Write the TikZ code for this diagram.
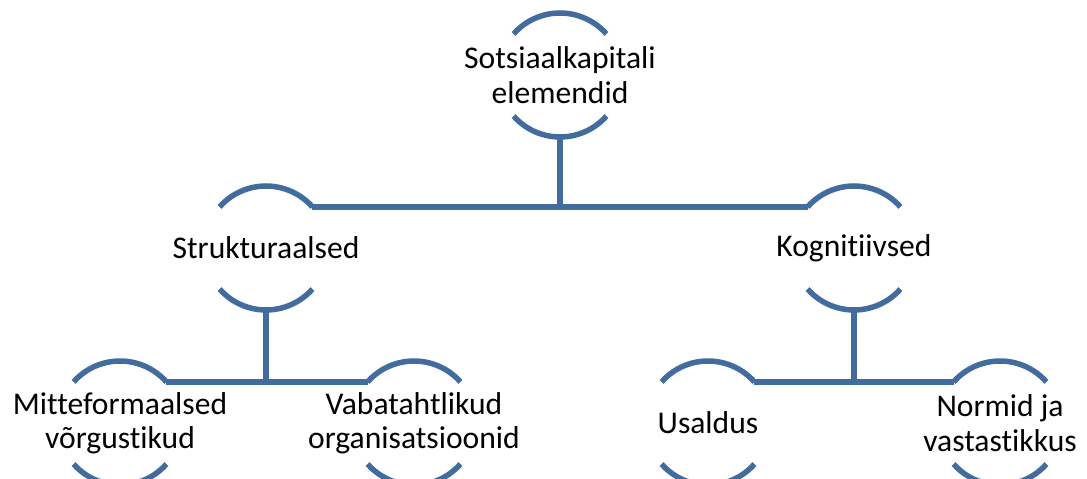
\documentclass[tikz,border=0pt]{standalone}
\usepackage{fontspec}
\setmainfont{Carlito}[Ligatures=NoCommon]
\usetikzlibrary{calc}
\definecolor{arcblue}{RGB}{66,107,158}
\tikzset{
  elem/.style={inner sep=0pt, outer sep=0pt, align=center,
    font=\fontsize{31.6}{34.5}\selectfont, text=black},
  link/.style={draw=arcblue, line width=5.5pt},
}
\newcommand{\elemarcs}[1]{%
  \coordinate (#1-tr) at ($(#1.center)+(41.5:62)$);
  \coordinate (#1-tl) at ($(#1.center)+(138.5:62)$);
  \coordinate (#1-br) at ($(#1.center)+(318.5:62)$);
  \coordinate (#1-b) at ($(#1.center)+(0,-62)$);
  \draw[link] (#1-tr) arc[start angle=41.5, end angle=138.5, radius=62pt];
  \draw[link] (#1-br) arc[start angle=318.5, end angle=221.5, radius=62pt];
}
\begin{document}
\begin{tikzpicture}[x=1pt,y=1pt]
\useasboundingbox (0,0) rectangle (1087,479);
\node[elem] (top) at (560,404) {Sotsiaalkapitali\\elemendid};
\node[elem] (s) at (266,231) {Strukturaalsed};
\node[elem] (k) at (854,231) {Kognitiivsed};
\node[elem] (m) at (120,56) {Mitteformaalsed\\võrgustikud};
\node[elem] (v) at (414,56) {Vabatahtlikud\\organisatsioonid};
\node[elem] (u) at (708,56) {Usaldus};
\node[elem] (n) at (1000,56) {Normid ja\\vastastikkus};
\foreach \nn in {top,s,k,m,v,u,n}{\elemarcs{\nn}}
\draw[link] (s-tr) -- (k-tl);
\draw[link] (top-b) -- (top-b |- s-tr);
\draw[link] (m-tr) -- (v-tl);
\draw[link] (s-b) -- (s-b |- m-tr);
\draw[link] (u-tr) -- (n-tl);
\draw[link] (k-b) -- (k-b |- u-tr);
\end{tikzpicture}
\end{document}
